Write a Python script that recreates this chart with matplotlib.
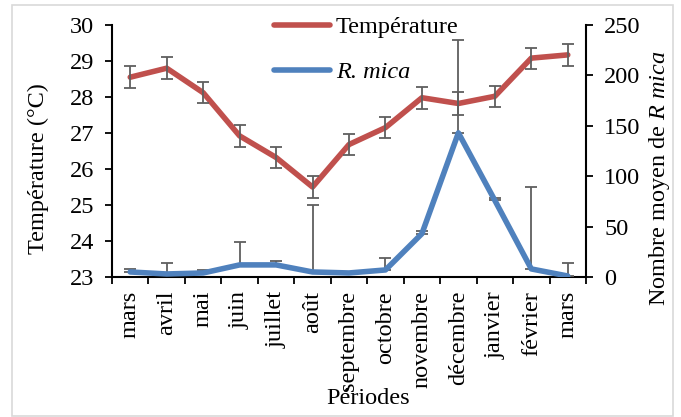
import numpy as np
import matplotlib
matplotlib.use("Agg")
import matplotlib.pyplot as plt
from matplotlib.patches import Rectangle

# monthly means, march to march
months = ['mars', 'avril', 'mai', 'juin', 'juillet', 'août', 'septembre',
          'octobre', 'novembre', 'décembre', 'janvier', 'février', 'mars']
temperature = [28.55, 28.8, 28.12, 26.92, 26.32, 25.5, 26.68,
               27.15, 27.98, 27.82, 28.02, 29.08, 29.17]
temp_err = [0.3, 0.3, 0.3, 0.3, 0.3, 0.3, 0.28, 0.3, 0.3, 0.31, 0.29, 0.29, 0.3]
rmica = [5, 3, 4, 12, 12, 5, 4, 7, 43, 143, 76, 8, 1]
rmica_err = [3, 11, 3, 23, 4, 66, 0, 12, 3, 92, 2, 81, 13]

RED = '#C0504D'
BLUE = '#4F81BD'
BAR = '#5f5f5f'

plt.rcParams['font.family'] = 'Liberation Serif'
plt.rcParams['mathtext.fontset'] = 'custom'
plt.rcParams['mathtext.rm'] = 'Liberation Serif'
plt.rcParams['mathtext.it'] = 'Liberation Serif:italic'
plt.rcParams['font.size'] = 17.5

W, H = 681, 417
fig = plt.figure(figsize=(W / 100, H / 100), dpi=100)
ax = fig.add_axes([112 / W, 1 - 277 / H, (586 - 112) / W, (277 - 25) / H])
ax2 = ax.twinx()

x = np.arange(len(months))

# temperature on the left axis
l1, = ax.plot(x, temperature, color=RED, lw=4, solid_capstyle='round',
              label='Température', zorder=2)
ax.errorbar(x, temperature, yerr=temp_err, fmt='none', ecolor=BAR,
            elinewidth=1.3, capsize=4.5, capthick=1.3, zorder=3)

# R. mica counts on the right axis (plus error only)
ax2.errorbar(x, rmica, yerr=[np.zeros(len(x)), rmica_err], fmt='none',
             ecolor=BAR, elinewidth=1.3, capsize=4.5, capthick=1.3, zorder=2)
l2, = ax2.plot(x, rmica, color=BLUE, lw=4, solid_capstyle='round',
               label='R. mica', zorder=3)

ax.set_xlim(-0.5, len(months) - 0.5)
ax.set_ylim(23, 30)
ax2.set_ylim(0, 250)
ax.set_yticks(range(23, 31))
ax2.set_yticks(range(0, 251, 50))

ax.set_xticks(x)
ax.set_xticklabels(months, rotation=90, va='top', ha='center')
ax.set_xticks(np.arange(-0.5, len(months), 1), minor=True)
ax.tick_params(axis='x', which='major', length=0, pad=10)
ax.tick_params(axis='x', which='minor', length=5, width=1.3, direction='out')
ax.tick_params(axis='y', length=5, width=1.3, direction='out', pad=8)
ax2.tick_params(axis='y', length=5, width=1.3, direction='out', pad=8)

for s in ['top', 'right']:
    ax.spines[s].set_visible(False)
for s in ['top', 'left', 'bottom']:
    ax2.spines[s].set_visible(False)
ax.spines['left'].set_linewidth(1.5)
ax.spines['bottom'].set_linewidth(1.5)
ax2.spines['right'].set_linewidth(1.5)

fig.text(38 / W, 1 - 169 / H, 'Température (°C)', rotation=90,
         ha='center', va='center')
fig.text(659 / W, 1 - 178 / H, r'Nombre moyen de $\it{R}$ $\it{mica}$',
         rotation=90, ha='center', va='center')
fig.text(368 / W, 1 - 399 / H, 'Périodes', ha='center', va='center')

leg = fig.legend(handles=[l1, l2], loc='upper left',
                 bbox_to_anchor=(274 / W, 1 - 16 / H), frameon=False,
                 handlelength=2.3, handletextpad=0.25, labelspacing=0.95,
                 borderpad=0, borderaxespad=0)
leg.get_texts()[1].set_fontstyle('italic')

fig.patches.append(Rectangle((12 / W, 1 - 416 / H), (673 - 12) / W, (416 - 5) / H,
                             transform=fig.transFigure, fill=False,
                             ec='#d9d9d9', lw=1.2))

fig.savefig('out.png', dpi=100)
